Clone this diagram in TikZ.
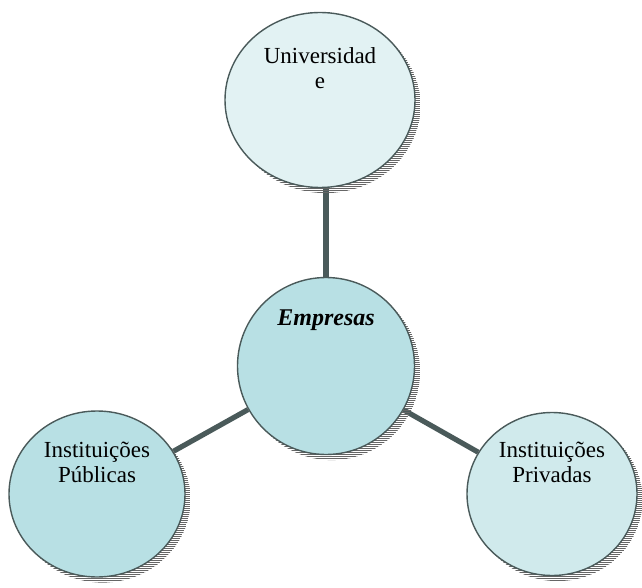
\documentclass[tikz,border=0pt]{standalone}
\usepackage{fontspec}
\setmainfont{Liberation Serif}
\usetikzlibrary{shapes.geometric,shadows,patterns.meta,backgrounds}
\definecolor{EdgeClr}{RGB}{74,90,90}
\definecolor{UnivClr}{RGB}{226,242,243}
\definecolor{EmpClr}{RGB}{184,224,228}
\definecolor{PubClr}{RGB}{184,224,228}
\definecolor{PrivClr}{RGB}{208,234,236}

\begin{document}
\begin{tikzpicture}[x=0.5pt,y=-0.5pt,
  bubble/.style={ellipse,draw=EdgeClr,line width=0.7pt,inner sep=0pt,
    general shadow={shadow xshift=2.8pt,shadow yshift=-2.8pt,draw=none,
      pattern={Lines[angle=0,distance=1pt,line width=0.45pt]},pattern color=gray!80!black}},
  lbl/.style={anchor=north,align=center,inner sep=0pt,
    font=\fontsize{11.5}{12.5}\selectfont},
  link/.style={draw=EdgeClr,line width=2.6pt}]
\useasboundingbox (0,0) rectangle (642,588);

\node[bubble,fill=UnivClr,minimum width=95pt,minimum height=87.5pt,
  label={[lbl,yshift=-17.5pt]north:Universidad\\e}] (univ) at (320,100) {};
\node[bubble,fill=EmpClr,minimum width=88.5pt,minimum height=88.5pt,
  label={[lbl,yshift=-16.5pt,font=\fontsize{12}{12.5}\selectfont\bfseries\itshape]north:Empresas}] (emp) at (326,366) {};
\node[bubble,fill=PubClr,minimum width=88pt,minimum height=83pt,
  label={[lbl,yshift=-15.5pt]north:Instituições\\Públicas}] (pub) at (97,494) {};
\node[bubble,fill=PrivClr,minimum width=85pt,minimum height=81.5pt,
  label={[lbl,yshift=-15pt]north:Instituições\\Privadas}] (priv) at (552,494) {};

\begin{scope}[on background layer]
\draw[link] (emp) -- (emp |- univ.south);
\draw[link] (emp) -- (pub);
\draw[link] (emp) -- (priv);
\end{scope}
\end{tikzpicture}
\end{document}
